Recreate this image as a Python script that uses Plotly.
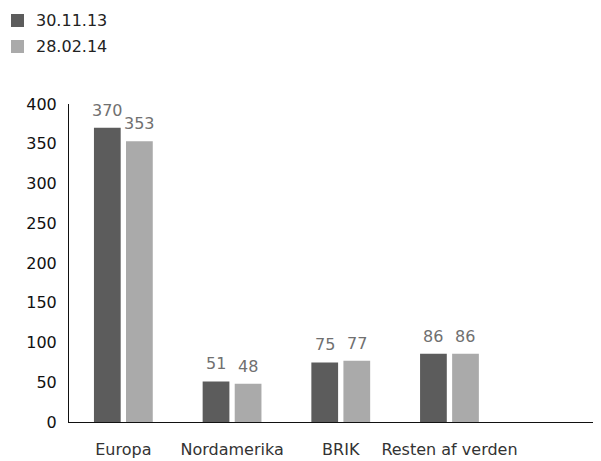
import plotly.graph_objects as go

categories = ["Europa", "Nordamerika", "BRIK", "Resten af verden"]
series_names = ["30.11.13", "28.02.14"]
values_1 = [370, 51, 75, 86]
values_2 = [353, 48, 77, 86]
colors = ["#5c5c5c", "#aaaaaa"]
y_ticks = [0, 50, 100, 150, 200, 250, 300, 350, 400]

FONT = "DejaVu Sans"
OFF = 8  # page body margin in the browser
FW, FH = 601 - OFF, 461 - OFF
L, T, W, H = 69 - OFF, 104 - OFF, 532, 318

def px_x(px):
    return (px - OFF - L) / W

def px_y(py):
    return (T + H - (py - OFF)) / H

fig = go.Figure()
for name, vals, col in zip(series_names, [values_1, values_2], colors):
    fig.add_trace(go.Bar(x=categories, y=vals, name=name, marker_color=col,
                         marker_line_width=0, showlegend=False))

# value labels above the bars
for i, (name, vals) in enumerate(zip(series_names, [values_1, values_2])):
    shift = -16 if i == 0 else 16
    for c, v in zip(categories, vals):
        fig.add_annotation(x=c, y=v, text=str(v), showarrow=False,
                           xshift=shift, yanchor="bottom", yshift=6,
                           font=dict(family=FONT, size=16, color="#707070"))

# manual legend (top-left)
for i, (name, col) in enumerate(zip(series_names, colors)):
    cy = 20.5 + i * 26
    fig.add_shape(type="rect", xref="paper", yref="paper",
                  x0=px_x(11), x1=px_x(24), y0=px_y(cy + 6.5), y1=px_y(cy - 6.5),
                  fillcolor=col, line_width=0)
    fig.add_annotation(xref="paper", yref="paper", x=px_x(34), y=px_y(cy),
                       text=name, showarrow=False, xanchor="left", yanchor="middle",
                       font=dict(family=FONT, size=16, color="#222222"))

fig.update_layout(
    width=FW, height=FH,
    margin=dict(l=L, r=FW - L - W, t=T, b=FH - T - H, autoexpand=False),
    paper_bgcolor="white", plot_bgcolor="white",
    barmode="group", bargap=0.41, bargroupgap=0.166,
    font=dict(family=FONT, size=16, color="#222222"),
    showlegend=False,
    xaxis=dict(range=[-0.5, 4.394], showline=True, linecolor="#111111", linewidth=1,
               showgrid=False, ticks="", ticklabelstandoff=13, zeroline=False,
               automargin=False,
               tickfont=dict(family=FONT, size=16, color="#333333")),
    yaxis=dict(range=[0, 400], tickvals=y_ticks, showline=True, linecolor="#111111",
               linewidth=1, showgrid=False, ticks="", zeroline=False,
               ticklabelstandoff=8, automargin=False,
               tickfont=dict(family=FONT, size=16, color="#111111")),
)

fig.write_html("out.html")
